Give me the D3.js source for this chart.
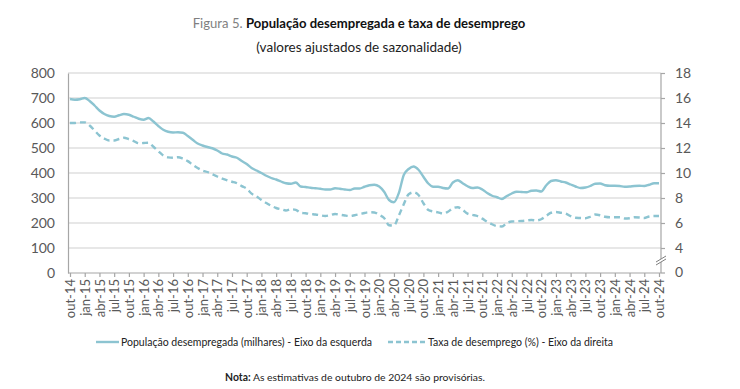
<!DOCTYPE html>
<html><head><meta charset="utf-8">
<script src="https://cdn.jsdelivr.net/npm/d3@7"></script>
<style>
body{margin:0;background:#fff;}
svg{display:block;font-family:Lato,"Open Sans",sans-serif;}
</style></head>
<body>
<svg id="c" width="740" height="389"></svg>
<script>
// ---- data ----
const tickLabels = ["out-14","jan-15","abr-15","jul-15","out-15","jan-16","abr-16","jul-16","out-16","jan-17","abr-17","jul-17","out-17","jan-18","abr-18","jul-18","out-18","jan-19","abr-19","jul-19","out-19","jan-20","abr-20","jul-20","out-20","jan-21","abr-21","jul-21","out-21","jan-22","abr-22","jul-22","out-22","jan-23","abr-23","jul-23","out-23","jan-24","abr-24","jul-24","out-24"];
const leftTicks = [0,100,200,300,400,500,600,700,800];
const rightTicks = [4,6,8,10,12,14,16,18];
// População desempregada (milhares), monthly out-14 .. out-24
const populacao = [696,693,695,700,688,670,650,636,628,625,631,636,633,625,617,613,620,606,588,573,
565,562,563,561,548,533,518,510,504,499,490,478,474,466,461,448,436,420,410,400,
389,380,374,366,359,357,362,346,344,341,339,337,334,334,339,337,334,332,338,338,
345,351,353,346,325,292,283,320,392,416,426,413,385,358,345,345,340,338,362,371,
359,347,340,342,334,320,309,303,296,308,318,325,324,323,329,330,326,350,368,371,
366,362,354,346,340,342,348,357,358,351,349,349,348,345,346,348,349,348,353,359,359];
// Taxa de desemprego (%), monthly out-14 .. out-24
const taxa = [14.0,14.0,14.05,14.05,13.8,13.4,13.0,12.75,12.6,12.6,12.72,12.82,12.7,12.55,12.38,12.4,12.42,12.1,11.75,11.4,
11.25,11.22,11.26,11.15,10.95,10.65,10.4,10.2,10.08,9.9,9.72,9.55,9.42,9.3,9.18,8.95,8.75,8.35,8.12,7.85,
7.6,7.38,7.2,7.1,7.0,7.1,7.05,6.82,6.78,6.72,6.68,6.62,6.56,6.62,6.72,6.66,6.6,6.56,6.62,6.7,
6.8,6.86,6.84,6.65,6.4,5.82,5.8,6.6,7.5,8.3,8.45,8.24,7.58,7.04,6.92,6.85,6.76,6.9,7.18,7.26,
7.05,6.75,6.65,6.56,6.35,6.1,5.9,5.75,5.72,6.0,6.12,6.14,6.16,6.2,6.24,6.2,6.3,6.56,6.82,6.88,
6.82,6.75,6.55,6.42,6.4,6.38,6.5,6.68,6.62,6.5,6.46,6.46,6.46,6.36,6.38,6.46,6.44,6.4,6.52,6.56,6.56];
const titleLabel = "Figura 5.";
const titleText = "População desempregada e taxa de desemprego";
const subtitle = "(valores ajustados de sazonalidade)";
const legendLabels = ["População desempregada (milhares) - Eixo da esquerda","Taxa de desemprego (%) - Eixo da direita"];

// ---- layout ----
const svg = d3.select("#c");
const L = 68, R = 661, T = 73, B = 273;
const lineColor = "#8cc4d1", gridColor = "#d0d0d0", axisColor = "#a6a6a6", txt = "#595959";
const x = d3.scaleLinear().domain([0, populacao.length-1]).range([70, 659]);
const yL = d3.scaleLinear().domain([0,800]).range([B,T]);
const yR = d3.scaleLinear().domain([4,18]).range([248,T]);

// title
const t = svg.append("text").attr("x",359).attr("y",27.5).attr("text-anchor","middle").attr("font-size",13.1);
t.append("tspan").attr("fill","#7f7f7f").text(titleLabel+" ");
t.append("tspan").attr("fill","#111").attr("font-weight",700).text(titleText);
svg.append("text").attr("x",359).attr("y",52).attr("text-anchor","middle").attr("font-size",13.5).attr("fill","#222").text(subtitle);

// grid
svg.append("g").selectAll("line").data(leftTicks.filter(d=>d>0)).join("line")
  .attr("x1",L).attr("x2",R).attr("y1",d=>yL(d)).attr("y2",d=>yL(d))
  .attr("stroke",gridColor).attr("stroke-width",1.2);

// left axis
const gl = svg.append("g").attr("transform",`translate(${L},0)`)
  .call(d3.axisLeft(yL).tickValues(leftTicks).tickSize(0).tickPadding(13));
gl.select(".domain").attr("stroke",axisColor).attr("stroke-width",1.2);
gl.selectAll("text").attr("font-size",14).attr("fill",txt).attr("font-family","Lato");

// right axis
const gr = svg.append("g").attr("transform",`translate(${R},0)`)
  .call(d3.axisRight(yR).tickValues(rightTicks).tickSize(4).tickPadding(10));
gr.select(".domain").remove();
gr.selectAll("line").attr("stroke",axisColor).attr("stroke-width",1.2);
gr.selectAll("text").attr("font-size",14).attr("fill",txt).attr("font-family","Lato");
svg.append("line").attr("x1",R).attr("x2",R).attr("y1",T).attr("y2",B).attr("stroke",axisColor).attr("stroke-width",1.2);
svg.append("line").attr("x1",R).attr("x2",R+4).attr("y1",B).attr("y2",B).attr("stroke",axisColor).attr("stroke-width",1.2);
svg.append("text").attr("x",R+14).attr("y",B).attr("dy","0.32em").attr("font-size",14).attr("fill",txt).text("0");
// axis break
const bg = svg.append("g");
bg.append("polygon").attr("points",`${R-5},${262} ${R+5},${256} ${R+5},${259} ${R-5},${265}`).attr("fill","#fff");
bg.append("line").attr("x1",R-5).attr("y1",262).attr("x2",R+5).attr("y2",256).attr("stroke","#7f7f7f").attr("stroke-width",1);
bg.append("line").attr("x1",R-5).attr("y1",265).attr("x2",R+5).attr("y2",259).attr("stroke","#7f7f7f").attr("stroke-width",1);

// bottom axis
const tickIdx = tickLabels.map((d,i)=>i*3);
const gb = svg.append("g").attr("transform",`translate(0,${B})`)
  .call(d3.axisBottom(x).tickValues(tickIdx).tickSize(4).tickPadding(5).tickFormat((d,i)=>tickLabels[i]));
gb.select(".domain").attr("d",`M${L},0H${R}`).attr("stroke",axisColor).attr("stroke-width",1.2);
gb.selectAll("line").attr("stroke",axisColor).attr("stroke-width",1.2);
gb.selectAll("text").attr("font-size",13).attr("fill",txt).attr("font-family","Lato")
  .attr("transform","rotate(-90)").attr("text-anchor","end").attr("x",-6).attr("y",0).attr("dy","0.35em");

// lines
const line1 = d3.line().x((d,i)=>x(i)).y(d=>yL(d)).curve(d3.curveMonotoneX);
const line2 = d3.line().x((d,i)=>x(i)).y(d=>yR(d)).curve(d3.curveMonotoneX);
svg.append("path").attr("d",line1(populacao)).attr("fill","none").attr("stroke",lineColor).attr("stroke-width",2.4);
svg.append("path").attr("d",line2(taxa)).attr("fill","none").attr("stroke",lineColor).attr("stroke-width",2.4).attr("stroke-dasharray","6,4");

// legend
const ly = 342;
svg.append("line").attr("x1",96).attr("x2",119).attr("y1",ly).attr("y2",ly).attr("stroke",lineColor).attr("stroke-width",2.4);
svg.append("text").attr("x",121).attr("y",ly).attr("dy","0.35em").attr("font-size",10.5).attr("fill","#222").text(legendLabels[0]);
svg.append("line").attr("x1",388).attr("x2",426).attr("y1",ly).attr("y2",ly).attr("stroke",lineColor).attr("stroke-width",2.4).attr("stroke-dasharray","5,3");
svg.append("text").attr("x",428).attr("y",ly).attr("dy","0.35em").attr("font-size",10.5).attr("fill","#222").text(legendLabels[1]);

// note
const n = svg.append("text").attr("x",355).attr("y",380.5).attr("text-anchor","middle").attr("font-size",10.4).attr("fill","#222");
n.append("tspan").attr("font-weight",700).text("Nota:");
n.append("tspan").text(" As estimativas de outubro de 2024 são provisórias.");
</script>
</body></html>
